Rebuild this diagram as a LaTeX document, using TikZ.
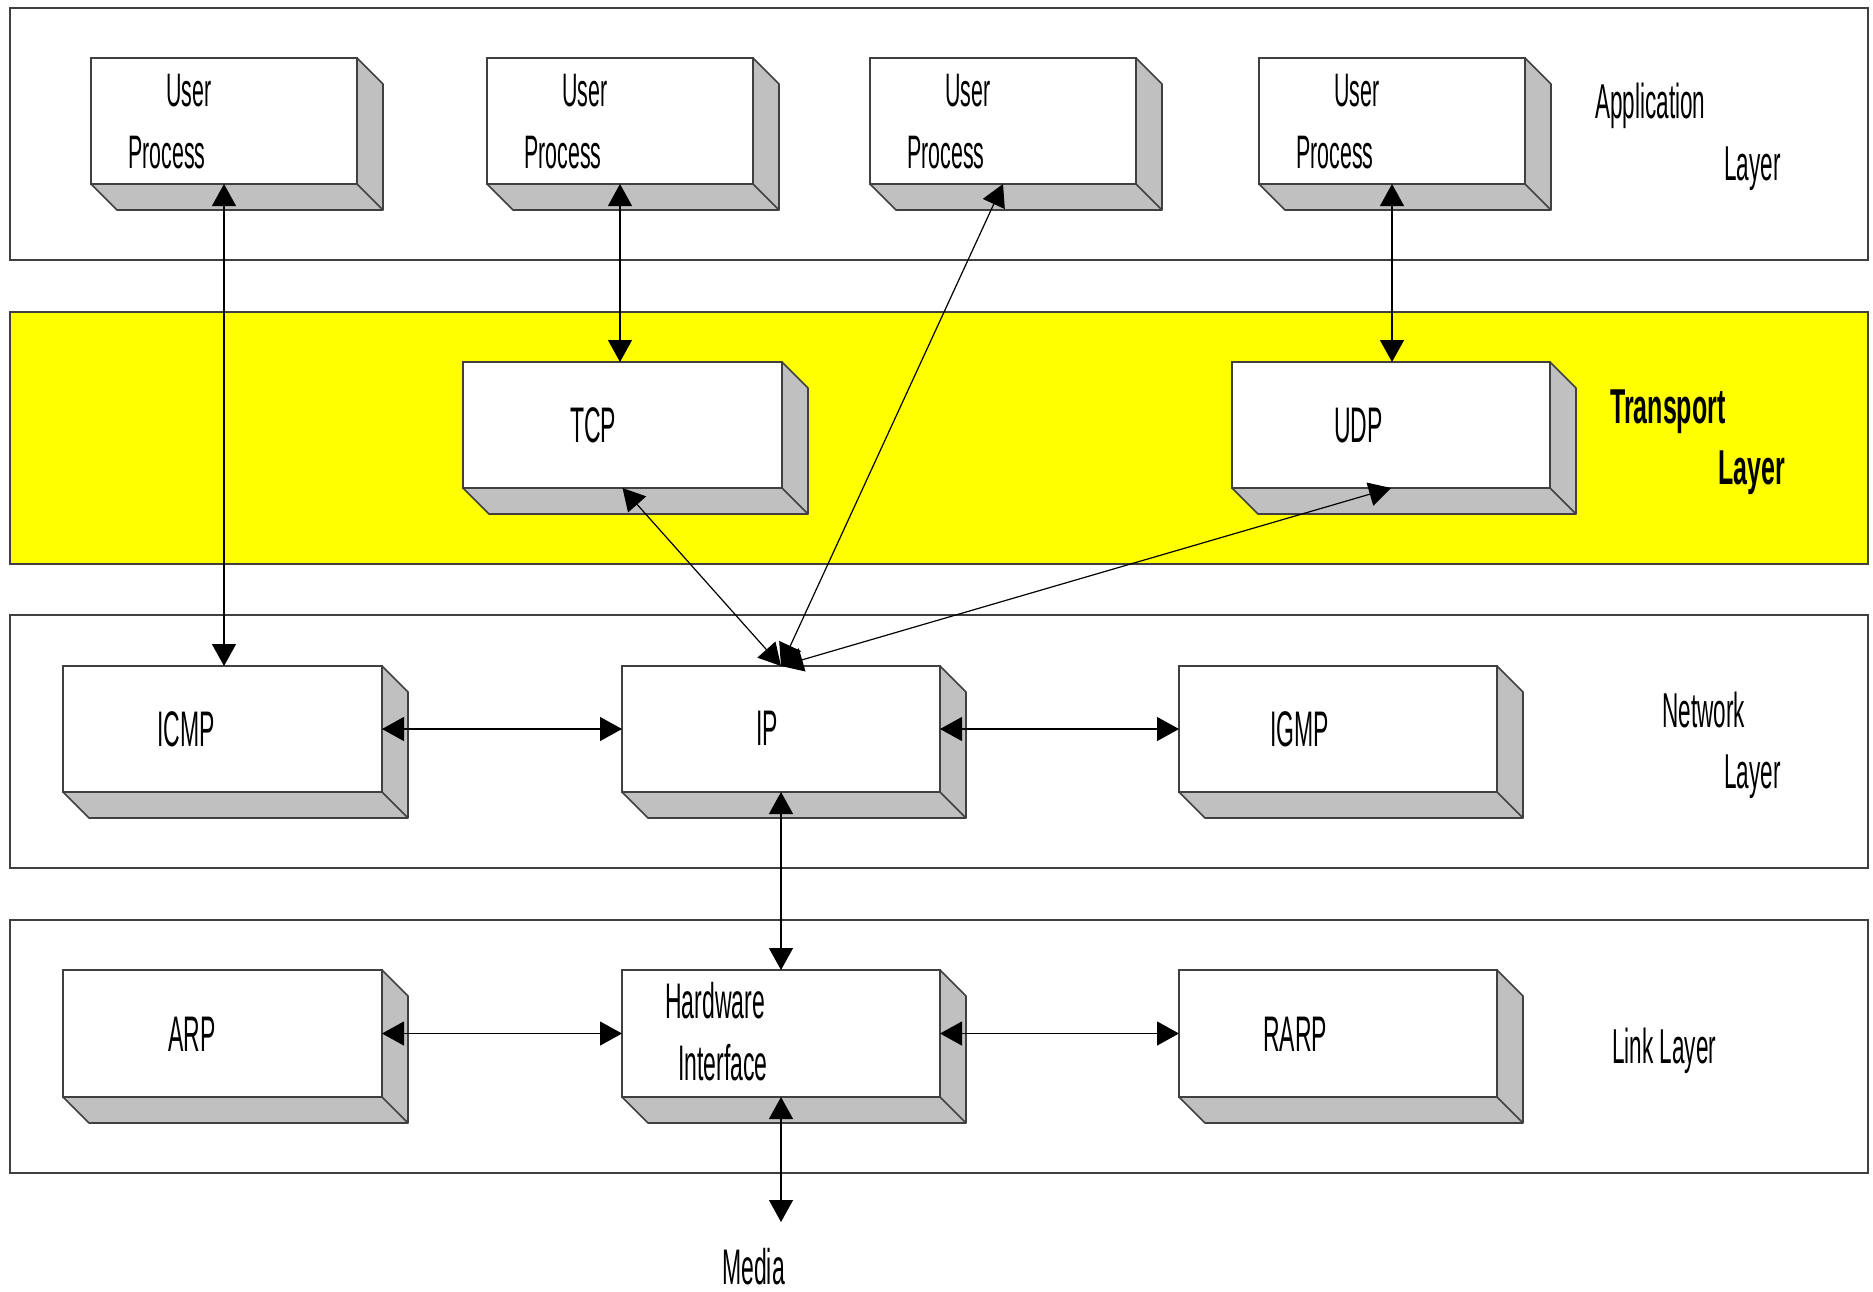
\documentclass[tikz,border=0pt]{standalone}
\usepackage{fontspec}
\setmainfont{Liberation Sans}
\newfontfamily\boxfont[FakeStretch=0.46]{Liberation Sans}
\newfontfamily\upfont[FakeStretch=0.455]{Liberation Sans}
\newfontfamily\boldnarrow[FakeStretch=0.51]{Liberation Sans}
\usetikzlibrary{arrows.meta,calc}
\definecolor{sidegray}{HTML}{C0C0C0}
\definecolor{edgegray}{HTML}{404040}
\definecolor{layeryellow}{HTML}{FFFF00}
\tikzset{
  layerbox/.style={draw=edgegray, line width=1.3pt},
  box/.style={draw=edgegray, line width=1.6pt, fill=white, anchor=north west,
    inner sep=0pt, outer sep=0pt, minimum height=126pt},
  sideface/.style={fill=sidegray, draw=edgegray, line width=1.6pt, line join=round},
  sideedge/.style={draw=edgegray, line width=1.6pt},
  txt/.style={inner sep=0pt, anchor=base west, font=\boxfont\fontsize{50}{60}\selectfont},
  uptxt/.style={inner sep=0pt, anchor=base west, font=\upfont\fontsize{47}{56}\selectfont},
  lbl/.style={inner sep=0pt, anchor=base west, font=\boxfont\fontsize{49}{59}\selectfont},
  boldlbl/.style={inner sep=0pt, anchor=base west, font=\boldnarrow\bfseries\fontsize{49}{59}\selectfont},
  conn/.style={draw=black, line width=1.2pt, >={Triangle[length=22pt,width=24pt]}, <->}
}
\begin{document}
\begin{tikzpicture}[x=1pt,y=-1pt]
\useasboundingbox (0,0) rectangle (1873,1291);
\fill[white] (0,0) rectangle (1873,1291);

% layers
\draw[layerbox] (10,8) rectangle (1868,260);
\filldraw[layerbox, fill=layeryellow] (10,312) rectangle (1868,564);
\draw[layerbox] (10,615) rectangle (1868,868);
\draw[layerbox] (10,920) rectangle (1868,1173);

% boxes (front faces)
\node[box, minimum width=266pt] (up1) at (91,58) {};
\node[box, minimum width=266pt] (up2) at (487,58) {};
\node[box, minimum width=266pt] (up3) at (870,58) {};
\node[box, minimum width=266pt] (up4) at (1259,58) {};
\node[box, minimum width=319pt] (tcp) at (463,362) {};
\node[box, minimum width=318pt] (udp) at (1232,362) {};
\node[box, minimum width=319pt] (icmp) at (63,666) {};
\node[box, minimum width=318pt] (ip) at (622,666) {};
\node[box, minimum width=318pt] (igmp) at (1179,666) {};
\node[box, minimum width=319pt, minimum height=127pt] (arp) at (63,970) {};
\node[box, minimum width=318pt, minimum height=127pt] (hw) at (622,970) {};
\node[box, minimum width=318pt, minimum height=127pt] (rarp) at (1179,970) {};

% depth faces
\foreach \n in {up1,up2,up3,up4,tcp,udp,icmp,ip,igmp,arp,hw,rarp}{
  \filldraw[sideface] (\n.north east) -- ++(26,26) -- ($(\n.south east)+(26,26)$)
    -- ($(\n.south west)+(26,26)$) -- (\n.south west) -- (\n.south east) -- cycle;
  \draw[sideedge] (\n.south east) -- ++(26,26);
}

% box texts
\foreach \n in {up1,up2,up3,up4}{
  \node[uptxt] (\n a) at ($(\n.north west)+(75,48)$) {User};
  \node[uptxt] (\n b) at ($(\n.north west)+(37,110)$) {Process};
}
\node[txt] (tcpt) at ($(tcp.north west)+(107,80)$) {TCP};
\node[txt] (udpt) at ($(udp.north west)+(102,80)$) {UDP};
\node[txt] (icmpt) at ($(icmp.north west)+(94,80)$) {ICMP};
\node[txt] (ipt) at ($(ip.north west)+(134,79)$) {IP};
\node[txt] (igmpt) at ($(igmp.north west)+(91,80)$) {IGMP};
\node[txt] (arpt) at ($(arp.north west)+(105,81)$) {ARP};
\node[txt] (hwa) at ($(hw.north west)+(43,48)$) {Hardware};
\node[txt] (hwb) at ($(hw.north west)+(56,110)$) {Interface};
\node[txt] (rarpt) at ($(rarp.north west)+(84,81)$) {RARP};

% layer labels
\node[lbl] (appa) at (1595,118) {Application};
\node[lbl] (appb) at (1724,180) {Layer};
\node[boldlbl] (trna) at (1610,423) {Transport};
\node[boldlbl] (trnb) at (1718,484) {Layer};
\node[lbl] (neta) at (1662,727) {Network};
\node[lbl] (netb) at (1724,788) {Layer};
\node[lbl] (lnk) at (1612,1063) {Link Layer};
\node[txt] (media) at (722,1284) {Media};

% connectors
\coordinate (mediaend) at ($(hw.south)+(0,125)$);
\draw[conn] (up1.south) -- (up1.south |- icmp.north);
\draw[conn] (up2.south) -- (up2.south |- tcp.north);
\draw[conn] (up4.south) -- (up4.south |- udp.north);
\draw[conn] (up3.south) -- (ip.north);
\draw[conn] (tcp.south) -- (ip.north);
\draw[conn] (udp.south) -- (ip.north);
\draw[conn] (icmp.east) -- (ip.west);
\draw[conn] (ip.east) -- (igmp.west);
\draw[conn] (ip.south) -- (hw.north);
\draw[conn] (arp.east) -- (hw.west);
\draw[conn] (hw.east) -- (rarp.west);
\draw[conn] (hw.south) -- (mediaend);
\end{tikzpicture}
\end{document}
